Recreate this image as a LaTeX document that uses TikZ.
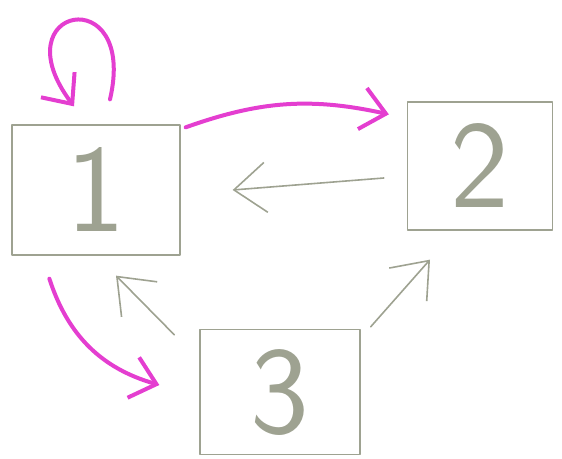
\documentclass[tikz,border=0pt]{standalone}
\usepackage{tikz}
\usetikzlibrary{arrows,arrows.meta,positioning}
\definecolor{pencil}{RGB}{158,162,145}
\definecolor{marker}{RGB}{228,62,208}

\begin{document}
\begin{tikzpicture}[x=1pt,y=1pt,line cap=round,line join=round]
  \tikzstyle{box}=[rectangle,draw=pencil,line width=1.3pt,text=pencil,
                   font=\sffamily\fontsize{125}{125}\selectfont]
  \tikzstyle{pen}=[draw=pencil,line width=1.6pt,-{Straight Barb[length=32pt,width=50pt]}]
  \tikzstyle{hi}=[draw=marker,line width=4pt,-{Straight Barb[length=24pt,width=42pt]}]
  \useasboundingbox (0,0) rectangle (562,458);

  \node[box,minimum width=168pt,minimum height=130pt] (1) at (96,268) {1};
  \node[box,minimum width=145pt,minimum height=128pt] (2) at (480,292) {2};
  \node[box,minimum width=160pt,minimum height=125pt] (3) at (280,66) {3};

  % pink ones
  \draw[hi] ([xshift=14pt,yshift=25pt]1.north)
      .. controls +(28,120) and +(-75,100) .. ([xshift=-22pt,yshift=18pt]1.north);
  \path ([xshift=5pt,yshift=-3pt]1.north east) edge[hi,bend left=16]
      ([xshift=-18pt,yshift=-13pt]2.north west);
  \path ([xshift=38pt,yshift=-23pt]1.south west) edge[hi,bend right=28]
      ([xshift=-40pt,yshift=7pt]3.west);

  % pencil ones
  \path ([xshift=-23pt,yshift=-12pt]2.west) edge[pen] ([xshift=52pt]1.east)
        ([xshift=-25pt,yshift=-6pt]3.north west) edge[pen] ([xshift=20pt,yshift=-20pt]1.south)
        ([xshift=10pt,yshift=2pt]3.north east) edge[pen] ([xshift=-50pt,yshift=-29pt]2.south);
\end{tikzpicture}
\end{document}
